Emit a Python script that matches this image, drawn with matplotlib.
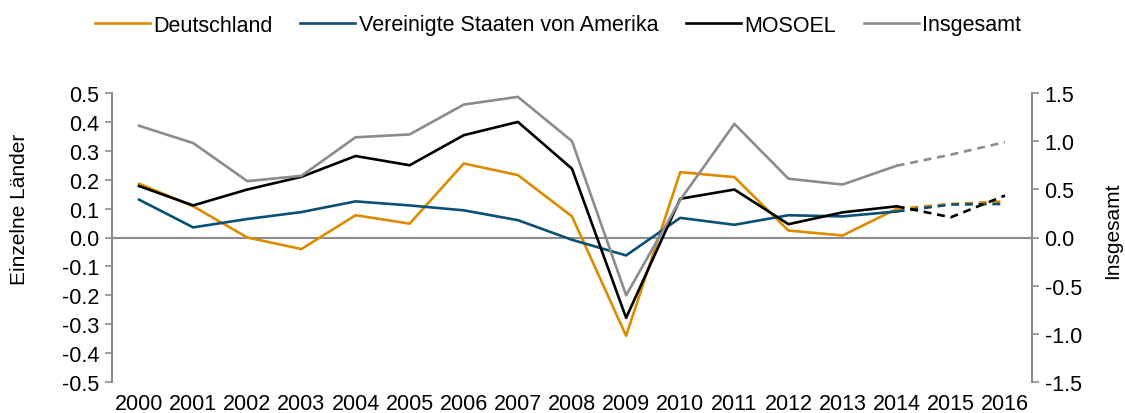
import matplotlib
matplotlib.use("Agg")
import matplotlib.pyplot as plt
from matplotlib.lines import Line2D

plt.rcParams['font.family'] = ['Liberation Sans', 'DejaVu Sans']
plt.rcParams['font.size'] = 15.5

years = [str(y) for y in range(2000, 2017)]

# Einzelne Laender (left axis)
deutschland = [0.186, 0.108, 0.0, -0.04, 0.077, 0.048, 0.256, 0.216, 0.073, -0.34,
               0.226, 0.209, 0.024, 0.007, 0.099, 0.116, 0.125]
usa = [0.131, 0.035, 0.064, 0.088, 0.125, 0.111, 0.094, 0.06, -0.008, -0.062,
       0.068, 0.044, 0.077, 0.073, 0.09, 0.114, 0.116]
mosoel = [0.178, 0.111, 0.166, 0.21, 0.282, 0.25, 0.354, 0.40, 0.238, -0.278,
          0.134, 0.166, 0.046, 0.087, 0.108, 0.07, 0.145]
# Insgesamt (right axis)
insgesamt = [1.16, 0.98, 0.585, 0.64, 1.04, 1.07, 1.38, 1.46, 1.0, -0.6,
             0.39, 1.18, 0.61, 0.55, 0.745, 0.86, 0.99]

c_de = '#DB8C00'
c_us = '#0B4F75'
c_mo = '#000000'
c_ins = '#8C8C8C'
grey = '#8C8C8C'

n_hist = 15  # 2000-2014 solid, afterwards forecast (dashed)
x = list(range(len(years)))

fig = plt.figure(figsize=(11.25, 4.14), dpi=100)
ax = fig.add_axes([112/1125, 1-383/414, 920/1125, 289/414])
ax2 = ax.twinx()

ax.axhline(0, color=grey, lw=1.5, zorder=1)

lw = 1.9
for vals, col, a in [(deutschland, c_de, ax), (usa, c_us, ax), (mosoel, c_mo, ax), (insgesamt, c_ins, ax2)]:
    a.plot(x[:n_hist], vals[:n_hist], color=col, lw=lw, zorder=3)
    a.plot(x[n_hist-1:], vals[n_hist-1:], color=col, lw=lw, ls=(0, (3, 2.2)), zorder=3)

ax.set_xlim(-0.5, len(years)-0.5)
ax.set_ylim(-0.5, 0.5)
ax2.set_ylim(-1.5, 1.5)
ax.set_xticks(x)
ax.set_xticklabels(years)
ax.set_yticks([i/10 for i in range(-5, 6)])
ax.set_yticklabels(['%.1f' % (i/10) for i in range(-5, 6)])
ax2.set_yticks([i/2 for i in range(-3, 4)])
ax2.set_yticklabels(['%.1f' % (i/2) for i in range(-3, 4)])

for a in (ax, ax2):
    for s in ('top', 'bottom'):
        a.spines[s].set_visible(False)
    a.spines['left'].set_color(grey)
    a.spines['right'].set_color(grey)
    a.spines['left'].set_linewidth(1.5)
    a.spines['right'].set_linewidth(1.5)
ax.spines['right'].set_visible(False)
ax2.spines['left'].set_visible(False)

ax.tick_params(axis='x', length=0, pad=8)
ax.tick_params(axis='y', length=5, width=1.2, color=grey, pad=4)
ax2.tick_params(axis='y', length=5, width=1.2, color=grey, pad=4)

ax.set_ylabel('Einzelne Länder', fontsize=15)
ax2.set_ylabel('Insgesamt', fontsize=15)
ax.yaxis.set_label_coords(-0.09, 0.6)
ax2.yaxis.set_label_coords(1.077, 0.526)

handles = [Line2D([], [], color=c, lw=lw) for c in (c_de, c_us, c_mo, c_ins)]
labels = ['Deutschland', 'Vereinigte Staaten von Amerika', 'MOSOEL', 'Insgesamt']
fig.legend(handles, labels, loc='center', bbox_to_anchor=(0.496, 1-26/414), ncol=4,
           frameon=False, handlelength=2.55, handletextpad=0.15, columnspacing=1.3)

fig.savefig('out.png', dpi=100)
